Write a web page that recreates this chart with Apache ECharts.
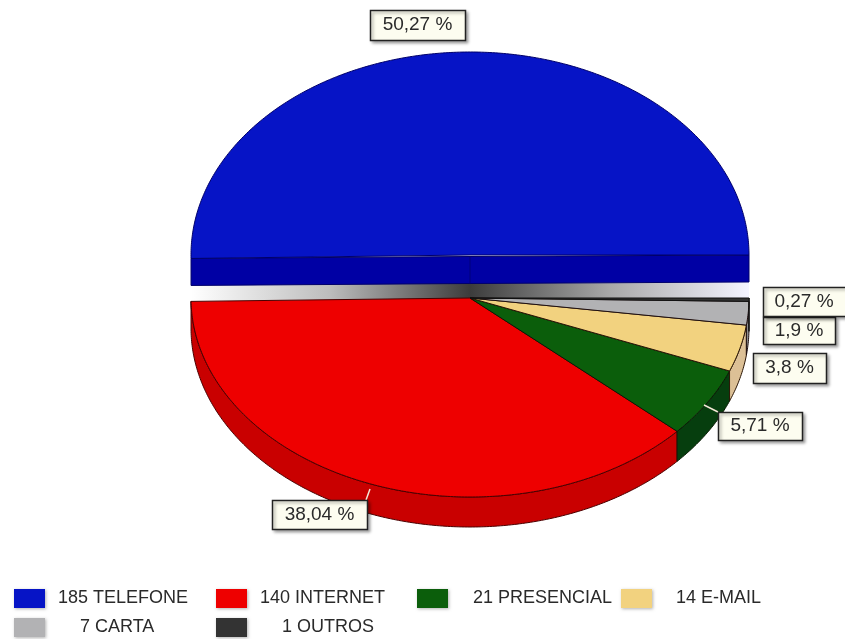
<!DOCTYPE html>
<html>
<head>
<meta charset="utf-8">
<style>html,body{margin:0;padding:0;background:#fff}#c{width:845px;height:639px}</style>
<script src="https://cdn.jsdelivr.net/npm/echarts@6/dist/echarts.min.js"></script>
</head>
<body>
<div id="c"></div>
<script>
const categories = ['TELEFONE', 'INTERNET', 'PRESENCIAL', 'E-MAIL', 'CARTA', 'OUTROS'];
const values = [185, 140, 21, 14, 7, 1];
const percentLabels = ['50,27 %', '38,04 %', '5,71 %', '3,8 %', '1,9 %', '0,27 %'];

const faceColors = ['#0614c6', '#ee0000', '#0b5e0b', '#f2d27f', '#b2b2b4', '#333333'];
const wallColors = ['#0000a4', '#c90000', '#063e0e', '#dcc096', '#8c8c8e', '#222222'];
const edgeColors = ['#00006a', '#4a0000', '#0a1a05', '#2a1505', '#201010', '#111111'];

const labelBoxes = [
  [370, 10, 95, 30], [272, 500, 95, 29], [718, 412, 84, 28],
  [753, 353, 73, 30], [763, 317, 72, 27], [763, 287, 90, 29]
];
const leaders = [null, [370, 489, 366, 500], [704, 405, 718, 412], null, null, null];
const legendSpots = [
  [14, 589, 8], [216, 589, 8], [417, 589, 20],
  [621, 589, 19], [14, 618, 30], [216, 618, 30]
];

const total = values.reduce((a, b) => a + b, 0);
const RX = 279;
const upper = { cx: 470, cy: 255, ry: 203, depth: 27 };
const lower = { cx: 470, cy: 298, ry: 199, depth: 30 };

function point(g, a, dy) {
  return [g.cx + RX * Math.cos(a), g.cy - g.ry * Math.sin(a) + (dy || 0)];
}
function arc(g, a1, a2, dy) {
  const n = Math.max(2, Math.ceil(Math.abs(a2 - a1) / 0.01));
  const pts = [];
  for (let i = 0; i <= n; i++) pts.push(point(g, a1 + (a2 - a1) * i / n, dy));
  return pts;
}

function makeRender(idx) {
  return function (params, api) {
    const v = api.value(0);
    let before = 0;
    for (let i = 0; i < idx; i++) before += values[i];
    const a1 = before / total * Math.PI * 2;
    const a2 = (before + v) / total * Math.PI * 2;
    const g = idx === 0 ? upper : lower;
    const children = [];
    const edge = { stroke: edgeColors[idx], lineWidth: 1 };

    if (idx === 0) {
      children.push({
        type: 'rect',
        shape: { x: 191, y: 283, width: 558, height: 18 },
        style: {
          fill: new echarts.graphic.LinearGradient(0, 0, 1, 0, [
            { offset: 0, color: '#ffffff' }, { offset: 0.25, color: '#bcbcbc' },
            { offset: 0.5, color: '#3c3c3c' }, { offset: 0.75, color: '#a8a8a8' },
            { offset: 1, color: '#f4f4ff' }
          ])
        }
      });
      const s = point(g, a1), e = point(g, a2), c = [g.cx, g.cy + 1.5];
      children.push({
        type: 'polygon',
        shape: { points: [s, c, e, [e[0], e[1] + g.depth], [c[0], c[1] + g.depth], [s[0], s[1] + g.depth]] },
        style: Object.assign({ fill: wallColors[idx] }, edge)
      });
      children.push({
        type: 'line',
        shape: { x1: c[0], y1: c[1], x2: c[0], y2: c[1] + g.depth },
        style: { stroke: '#00007a', lineWidth: 1 }
      });
    } else {
      children.push({
        type: 'polygon',
        shape: { points: arc(g, a1, a2).concat(arc(g, a2, a1, g.depth)) },
        style: Object.assign({ fill: wallColors[idx] }, edge)
      });
    }

    children.push({
      type: 'polygon',
      shape: { points: [[g.cx, g.cy]].concat(arc(g, a1, a2)) },
      style: Object.assign({ fill: faceColors[idx] }, edge)
    });

    if (leaders[idx]) {
      const l = leaders[idx];
      children.push({
        type: 'line',
        shape: { x1: l[0], y1: l[1], x2: l[2], y2: l[3] },
        style: { stroke: '#f4e8d8', lineWidth: 1.5 }
      });
    }

    const b = labelBoxes[idx];
    children.push({
      type: 'rect',
      shape: { x: b[0] + 0.5, y: b[1] + 0.5, width: b[2], height: b[3] },
      style: {
        fill: '#fdfdf0', stroke: '#222222', lineWidth: 1.5,
        shadowColor: 'rgba(0,0,0,0.35)', shadowBlur: 3, shadowOffsetX: 2, shadowOffsetY: 2
      }
    });
    children.push({
      type: 'text',
      x: b[0] + b[2] / 2 + (idx === 5 ? -4 : 0),
      y: b[1] + b[3] / 2,
      style: {
        text: percentLabels[idx], fill: '#2a2a2a',
        font: '19px "Liberation Sans", sans-serif',
        align: 'center', verticalAlign: 'middle'
      }
    });
    return { type: 'group', children };
  };
}

const chart = echarts.init(document.getElementById('c'), null, { renderer: 'canvas', width: 845, height: 639 });
chart.setOption({
  animation: false,
  backgroundColor: '#ffffff',
  legend: categories.map((name, i) => ({
    data: [name],
    left: legendSpots[i][0],
    top: legendSpots[i][1],
    padding: 0,
    itemWidth: 31,
    itemHeight: 19,
    selectedMode: false,
    icon: 'rect',
    itemStyle: { borderWidth: 0, shadowColor: 'rgba(0,0,0,0.3)', shadowBlur: 3, shadowOffsetX: 1, shadowOffsetY: 1 },
    formatter: n => values[categories.indexOf(n)] + ' ' + n,
    textStyle: {
      fontFamily: '"Liberation Sans", sans-serif',
      fontSize: 18,
      color: '#2a2a2a',
      padding: [0, 0, 0, legendSpots[i][2]]
    }
  })),
  series: categories.map((name, i) => ({
    type: 'custom',
    name,
    coordinateSystem: 'none',
    silent: true,
    itemStyle: { color: faceColors[i] },
    data: [[values[i]]],
    renderItem: makeRender(i)
  }))
});
</script>
</body>
</html>
